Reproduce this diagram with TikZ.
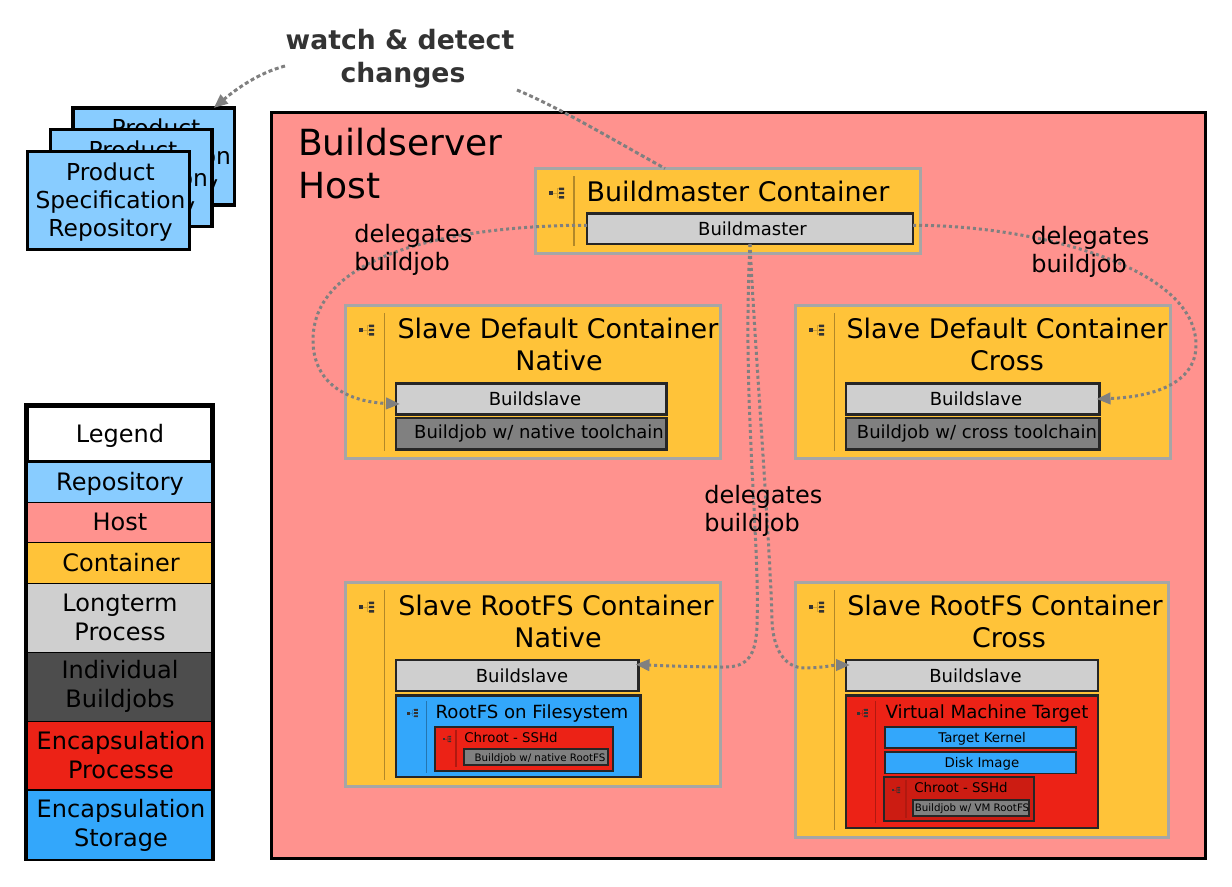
\documentclass[tikz,border=0pt]{standalone}
\usepackage{fontspec}
\setmainfont{DejaVu Sans}
\usetikzlibrary{arrows.meta,calc}
\definecolor{crepo}{HTML}{88CCFF}
\definecolor{chost}{HTML}{FF928E}
\definecolor{ccont}{HTML}{FFC339}
\definecolor{cproc}{HTML}{CFCFCF}
\definecolor{cindiv}{HTML}{4D4D4D}
\definecolor{cjob}{HTML}{808080}
\definecolor{cred}{HTML}{EC2216}
\definecolor{cdred}{HTML}{CC1C12}
\definecolor{cblue}{HTML}{33A7FB}
\definecolor{cedge}{HTML}{A6A6A6}
\definecolor{cconn}{HTML}{808080}
\definecolor{ctxt}{HTML}{333333}
\newcommand\mybox[6][]{%
  \pgfmathsetmacro\bw{(#5-#3)*0.75}%
  \pgfmathsetmacro\bh{(#6-#4)*0.75}%
  \node[boxbase,#1,minimum width=\bw pt,minimum height=\bh pt] (#2) at ({(#3+#5)/2},{(#4+#6)/2}) {};}
\newcommand\mytext[5][fm]{\node[#1] (#2) at (#3,#4) {#5};}
\newcommand\myicon[3]{%
  \begin{scope}[shift={(#1,#2)},scale=#3]
    \draw[black,opacity=.18,line width=.6pt] (2,0) -- (8,0) (6,-4.5) -- (6,4.5) (6,-4.5) -- (9,-4.5) (6,4.5) -- (9,4.5);
    \fill[black!80] (-2,-2) rectangle (2,2);
    \fill[black!80] (8,-5.5) rectangle (13,-3) (8,-1.2) rectangle (13,1.2) (8,3) rectangle (13,5.5);
  \end{scope}}
\tikzset{
  x=0.75pt,y=-0.75pt,
  boxbase/.style={inner sep=0pt,outer sep=0pt,rectangle},
  repobox/.style={draw=black,fill=crepo,line width=2.4pt},
  hostbox/.style={draw=black,fill=chost,line width=2.25pt},
  contbox/.style={draw=cedge,fill=ccont,line width=2.25pt},
  procbox/.style={draw=black!85,fill=cproc,line width=1.9pt},
  jobbox/.style={draw=black!85,fill=cjob,line width=1.9pt},
  tinyjob/.style={draw=black!85,fill=cjob,line width=1.2pt},
  fsbox/.style={draw=black!85,fill=cblue,line width=1.9pt},
  redbox/.style={draw=black!85,fill=cred,line width=1.9pt},
  dredbox/.style={draw=black!85,fill=cdred,line width=1.6pt},
  storebox/.style={draw=black!85,fill=cblue,line width=1.3pt},
  fl/.style={inner sep=0pt,align=center,font=\fontsize{27pt}{32.25pt}\selectfont},
  ft/.style={inner sep=0pt,align=center,font=\fontsize{20.2pt}{24pt}\selectfont},
  fm/.style={inner sep=0pt,align=center,font=\fontsize{18pt}{21.75pt}\selectfont},
  frepo/.style={inner sep=0pt,align=center,font=\fontsize{17.5pt}{21pt}\selectfont},
  fd/.style={inner sep=0pt,align=left,anchor=west,font=\fontsize{18pt}{21pt}\selectfont},
  fs/.style={inner sep=0pt,align=center,font=\fontsize{13.5pt}{16pt}\selectfont},
  fj/.style={inner sep=0pt,align=center,font=\fontsize{13.5pt}{16pt}\selectfont},
  fr/.style={inner sep=0pt,align=center,font=\fontsize{13.6pt}{16pt}\selectfont},
  fc/.style={inner sep=0pt,align=center,font=\fontsize{10pt}{12pt}\selectfont},
  fq/.style={inner sep=0pt,align=center,font=\fontsize{7.7pt}{10pt}\selectfont},
  fw/.style={inner sep=0pt,align=center,text=ctxt,font=\fontsize{20pt}{24.75pt}\selectfont\bfseries},
  watchline/.style={draw=cconn,line width=2.25pt,dash pattern=on 3pt off 2pt},
  dotline/.style={draw=cconn,line width=2.25pt,dash pattern=on 2.25pt off 2.25pt},
  tipped/.style={-{Triangle[length=10.5pt,width=8.5pt]}},
  sepgold/.style={draw=ccont!70!black,line width=1.1pt},
  sepblue/.style={draw=cblue!70!black,line width=.9pt},
  sepred/.style={draw=cred!75!black,line width=.9pt},
}
\begin{document}
\begin{tikzpicture}
\useasboundingbox (0,0) rectangle (1232,886);
% repositories
\mybox[repobox]{r3}{73}{108}{234.5}{205}
\mytext[frepo]{r3t}{156}{158}{Product\\Specification\\Repository}
\mybox[repobox]{r2}{50.5}{129.5}{212}{226.5}
\mytext[frepo]{r2t}{133}{180}{Product\\Specification\\Repository}
\mybox[repobox]{r1}{27.5}{151.5}{189.5}{249.5}
\mytext[frepo]{r1t}{110.5}{202}{Product\\Specification\\Repository}
% host
\mybox[hostbox]{host}{271.5}{112.5}{1205.5}{858.5}
\node[fl,align=left,anchor=west] (hosttitle) at (298,164) {Buildserver\\Host};
% master
\mybox[contbox]{mc}{535.5}{168.5}{920.5}{253.5}
\draw[sepgold] (574,176) -- (574,246);
\myicon{551}{193}{1}
\mytext[ft]{mct}{738}{191}{Buildmaster Container}
\mybox[procbox]{bm}{587}{213.5}{913}{244}
\mytext[fs]{bmt}{752.5}{229}{Buildmaster}
% default native
\mybox[contbox]{dn}{345.5}{305.5}{720.5}{458}
\draw[sepgold] (384.5,313) -- (384.5,451);
\myicon{361}{330}{1}
\mytext[ft]{dnt}{558}{344}{Slave Default Container\\\hspace*{1.5pt}Native}
\mybox[procbox]{dnb}{396}{383.5}{666.5}{414.5}
\mytext[fs]{dnbt}{535}{399}{Buildslave}
\mybox[jobbox]{dnj}{396}{418}{666.5}{449.5}
\mytext[fj]{dnjt}{539}{434}{Buildjob w/ native toolchain}
% default cross
\mybox[contbox]{dc}{795.5}{305.5}{1170.5}{458}
\draw[sepgold] (834.5,313) -- (834.5,451);
\myicon{811}{330}{1}
\mytext[ft]{dct}{1007}{344}{Slave Default Container\\Cross}
\mybox[procbox]{dcb}{846}{383.5}{1099.5}{414.5}
\mytext[fs]{dcbt}{976}{399}{Buildslave}
\mybox[jobbox]{dcj}{846}{418}{1099.5}{449.5}
\mytext[fj]{dcjt}{977}{434}{Buildjob w/ cross toolchain}
% rootfs native
\mybox[contbox]{rn}{345.5}{582.5}{720.5}{786}
\draw[sepgold] (384.5,590) -- (384.5,780);
\myicon{361}{607}{1}
\mytext[ft]{rnt}{556}{621}{Slave RootFS Container\\\hspace*{3pt}Native}
\mybox[procbox]{rnb}{396}{660}{638.5}{691}
\mytext[fs]{rnbt}{522}{676}{Buildslave}
\mybox[fsbox]{rnf}{396}{695.5}{640.5}{777}
\draw[sepblue] (426.7,701) -- (426.7,773);
\myicon{408}{713}{.75}
\mytext[fr]{rnft}{532}{713}{RootFS on Filesystem}
\mybox[dredbox,fill=cred]{rnc}{435}{727}{613}{771}
\draw[sepred] (456,730) -- (456,767);
\myicon{444}{739}{.55}
\mytext[fc]{rnct}{511}{738}{Chroot - SSHd}
\mybox[tinyjob]{rnj}{464}{749}{608}{765}
\mytext[fq]{rnjt}{540}{758.5}{Buildjob w/ native RootFS}
% rootfs cross
\mybox[contbox]{rc}{795.5}{582.5}{1168.5}{837.5}
\draw[sepgold] (834.3,590) -- (834.3,830);
\myicon{811}{607}{1}
\mytext[ft]{rct}{1005}{621}{Slave RootFS Container\\\hspace*{6pt}Cross}
\mybox[procbox]{rcb}{846}{660}{1098}{691}
\mytext[fs]{rcbt}{975.5}{676}{Buildslave}
\mybox[redbox]{rcv}{846}{695.5}{1098}{828}
\draw[sepred] (875.7,701) -- (875.7,823);
\myicon{858}{713}{.75}
\mytext[fr]{rcvt}{987}{713}{Virtual Machine Target}
\mybox[storebox]{rck}{885}{727}{1076}{748}
\mytext[fc]{rckt}{982}{738.5}{Target Kernel}
\mybox[storebox]{rcd}{885}{752}{1076}{773.5}
\mytext[fc]{rcdt}{982}{763.5}{Disk Image}
\mybox[dredbox]{rcc}{884}{777}{1034}{821}
\draw[sepred] (906,780) -- (906,818);
\myicon{893}{790}{.55}
\mytext[fc]{rcct}{961}{788}{Chroot - SSHd}
\mybox[tinyjob]{rcj}{913}{800}{1029}{816}
\mytext[fq]{rcjt}{972}{808.5}{Buildjob w/ VM RootFS}
% legend
\mybox[fill=black]{leg}{24}{403}{215}{861}
\mybox[fill=white]{l0}{29}{408}{210}{460}
\mybox[fill=crepo]{l1}{28.3}{462.7}{211}{501.7}
\mybox[fill=chost]{l2}{28.3}{503.3}{211}{541.7}
\mybox[fill=ccont]{l3}{28.3}{543.3}{211}{582.7}
\mybox[fill=cproc]{l4}{28.3}{584.3}{211}{651.7}
\mybox[fill=cindiv]{l5}{28.3}{653.3}{211}{720.7}
\mybox[fill=cred]{l6}{28.3}{722.3}{211}{789.3}
\mybox[fill=cblue]{l7}{28.3}{791}{211}{859}
\mytext{l0t}{120}{436}{Legend}
\mytext{l1t}{120}{484}{Repository}
\mytext{l2t}{120}{522}{Host}
\mytext{l3t}{121}{563}{Container}
\mytext{l4t}{120}{617}{Longterm\\Process}
\mytext[fm,text=black]{l5t}{120}{686}{Individual\\Buildjobs}
\mytext{l6t}{121}{755}{Encapsulation\\Processe}
\mytext{l7t}{121}{825}{Encapsulation\\Storage}
% watch
\mytext[fw]{watch}{400}{59}{watch \& detect\\\hspace*{4.5pt}changes}
\coordinate (wl) at (285,66);
\coordinate (wr) at (517,90);
\draw[watchline,tipped] (wl) .. controls (258,73) and (235,90) .. ([shift={(60,0)}]r3.north);
\draw[watchline] (wr) .. controls (560,108) and (610,138) .. ([shift={(-63,0)}]mc.north);
% delegation
\draw[dotline,tipped] ([shift={(0,-3.5)}]bm.west) .. controls (500,225) and (313,240) .. (313,340) .. controls (313,385) and (350,402) .. ([shift={(4,5)}]dnb.west);
\draw[dotline,tipped] ([shift={(0,-3.5)}]bm.east) .. controls (1030,225) and (1196,265) .. (1196,345) .. controls (1196,385) and (1150,397) .. ([shift={(-3,0)}]dcb.east);
\draw[dotline,tipped] (bm.south) .. controls (742,400) and (760,540) .. (757,625) .. controls (756,655) and (748,667) .. (725,667) .. controls (700,667) and (670,666) .. ([shift={(-3,-11)}]rnb.east);
\draw[dotline,tipped] (bm.south) .. controls (755,350) and (770,540) .. (772,620) .. controls (773,650) and (785,668) .. (805,668) .. controls (820,668) and (835,665) .. ([shift={(4,-10.5)}]rcb.west);
\node[fd] (d1) at (354,250) {delegates\\buildjob};
\node[fd] (d2) at (1031,252) {delegates\\buildjob};
\node[fd] (d3) at (704,511) {delegates\\buildjob};
\end{tikzpicture}
\end{document}
